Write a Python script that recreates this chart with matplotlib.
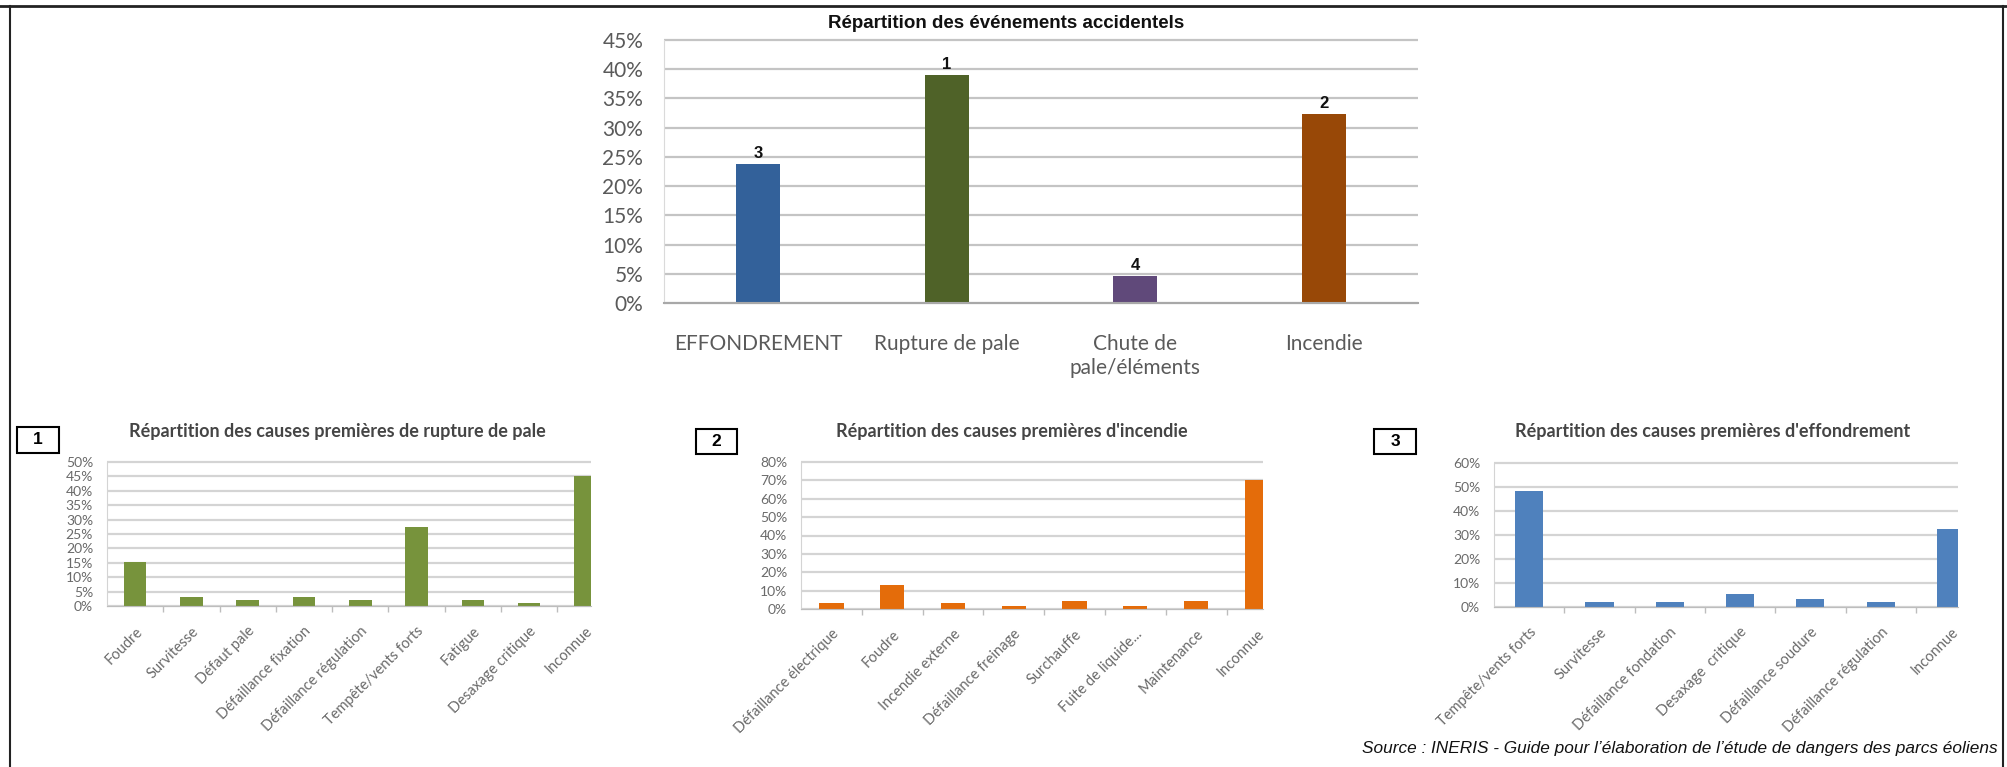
import matplotlib.pyplot as plt
from matplotlib.lines import Line2D
from matplotlib.patches import Rectangle
import numpy as np

# --- data ---------------------------------------------------------------
event_labels = ['EFFONDREMENT', 'Rupture de pale', 'Chute de\npale/éléments', 'Incendie']
event_values = [23.8, 39.0, 4.7, 32.4]
event_ranks = ['3', '1', '4', '2']
event_colors = ['#33619a', '#4f6228', '#60497a', '#984807']

rupture_labels = ['Foudre', 'Survitesse', 'Défaut pale', 'Défaillance fixation',
                  'Défaillance régulation', 'Tempête/vents forts', 'Fatigue',
                  'Desaxage critique', 'Inconnue']
rupture_values = [15.3, 3.2, 2.2, 3.2, 2.1, 27.4, 2.1, 1.1, 45.2]

incendie_labels = ['Défaillance électrique', 'Foudre', 'Incendie externe',
                   'Défaillance freinage', 'Surchauffe', 'Fuite de liquide...',
                   'Maintenance', 'Inconnue']
incendie_values = [3.1, 13.2, 3.1, 1.6, 4.3, 1.6, 4.3, 70.0]

effondrement_labels = ['Tempête/vents forts', 'Survitesse', 'Défaillance fondation',
                       'Desaxage  critique', 'Défaillance soudure',
                       'Défaillance régulation', 'Inconnue']
effondrement_values = [48.3, 2.1, 2.1, 5.6, 3.5, 2.1, 32.4]

W, H = 2008, 767
fig = plt.figure(figsize=(W / 100, H / 100), dpi=100)

CAL = ['Lato', 'DejaVu Sans']
ARIAL = ['Liberation Sans', 'DejaVu Sans']


def rect(l, t, r, b):
    return [l / W, 1 - b / H, (r - l) / W, (b - t) / H]


def pct(ax, step, top, color):
    ticks = np.arange(0, top + step / 2, step)
    ax.set_yticks(ticks)
    ax.set_yticklabels(['{:d}%'.format(int(round(t))) for t in ticks])
    ax.hlines(ticks, *ax.get_xlim(), colors=color, lw=1.6, clip_on=False, zorder=0)


# --- main chart ---------------------------------------------------------
ax = fig.add_axes(rect(664, 40, 1418, 303))
x = np.arange(len(event_values))
ax.set_xlim(-0.5, len(event_values) - 0.5)
ax.set_ylim(0, 45)
bars = ax.bar(x, event_values, width=0.235, color=event_colors, zorder=2)
for b, r in zip(bars, event_ranks):
    ax.annotate(r, (b.get_x() + b.get_width() / 2, b.get_height()),
                xytext=(0, 2), textcoords='offset points', ha='center', va='bottom',
                fontsize=12, fontweight='bold', family=ARIAL, color='#111111')
pct(ax, 5, 45, '#c4c4c4')
ax.set_xticks(x)
ax.set_xticklabels(event_labels, family=CAL, fontsize=15, color='#5a5a5a',
                   linespacing=1.25)
ax.tick_params(axis='x', length=0, pad=22)
ax.tick_params(axis='y', length=0, pad=15, labelsize=15, labelcolor='#5a5a5a')
for lab in ax.get_yticklabels():
    lab.set_family(CAL)
for s in ['top', 'right']:
    ax.spines[s].set_visible(False)
ax.spines['left'].set_color('#dadada')
ax.spines['bottom'].set_color('#a8a8a8')
ax.spines['bottom'].set_linewidth(1.5)
fig.text(1006 / W, 1 - 24 / H, 'Répartition des événements accidentels',
         ha='center', va='center', fontsize=13.5, fontweight='bold', family=ARIAL,
         color='#111111')

# --- sub charts ---------------------------------------------------------
panels = [
    (rupture_labels, rupture_values, '#77933c', (107, 462, 591, 606), 50, 5, 8.1,
     'Répartition des causes premières de rupture de pale', 337, '1', (17, 427, 59, 453)),
    (incendie_labels, incendie_values, '#e46c0a', (801, 462, 1263, 609), 80, 10, 7.1,
     "Répartition des causes premières d'incendie", 1012, '2', (696, 429, 737, 454)),
    (effondrement_labels, effondrement_values, '#4f81bd', (1494, 463, 1958, 607), 60, 10, 6.1,
     "Répartition des causes premières d'effondrement", 1713, '3', (1374, 429, 1416, 454)),
]

for labels, values, color, box, top, step, xr, title, tx, num, nb in panels:
    a = fig.add_axes(rect(*box))
    xi = np.arange(len(values))
    a.set_xlim(-0.5, xr)
    a.set_ylim(0, top)
    a.bar(xi, values, width=0.4, color=color, zorder=2)
    pct(a, step, top, '#d4d4d4')
    a.set_xticks(xi)
    a.set_xticklabels(labels, rotation=45, ha='right', rotation_mode='anchor',
                      family=CAL, fontsize=10.5, color='#6a6a6a')
    a.set_xticks(np.arange(0.5, len(values) - 1, 1), minor=True)
    a.tick_params(axis='x', which='major', length=0, pad=13)
    a.tick_params(axis='x', which='minor', length=4, color='#bdbdbd', width=1)
    a.tick_params(axis='y', length=0, pad=10, labelsize=10, labelcolor='#6a6a6a')
    for lab in a.get_yticklabels():
        lab.set_family(CAL)
    for s in ['top', 'right']:
        a.spines[s].set_visible(False)
    a.spines['left'].set_color('#d4d4d4')
    a.spines['bottom'].set_color('#bdbdbd')
    fig.text(tx / W, 1 - 432 / H, title, ha='center', va='center', fontsize=13,
             fontweight='bold', family=CAL, color='#454545')
    l, t, r, b = nb
    fig.add_artist(Rectangle((l / W, 1 - b / H), (r - l) / W, (b - t) / H,
                             transform=fig.transFigure, fill=False, lw=1.5,
                             edgecolor='black'))
    fig.text((l + r) / 2 / W, 1 - (t + b) / 2 / H, num, ha='center', va='center',
             fontsize=12.5, fontweight='bold', family=ARIAL)

fig.text(1998 / W, 1 - 749 / H,
         'Source : INERIS - Guide pour l’élaboration de l’étude de dangers des parcs éoliens',
         ha='right', va='center', fontsize=12.4, style='italic', family=ARIAL,
         color='#111111')

# frame
fig.add_artist(Line2D([0, 1], [1 - 6 / H] * 2, transform=fig.transFigure, color='#222222', lw=2))
fig.add_artist(Line2D([10 / W] * 2, [0, 1 - 6 / H], transform=fig.transFigure, color='#222222', lw=1.5))
fig.add_artist(Line2D([2003 / W] * 2, [0, 1 - 6 / H], transform=fig.transFigure, color='#222222', lw=1.5))

fig.savefig('out.png', dpi=100)
